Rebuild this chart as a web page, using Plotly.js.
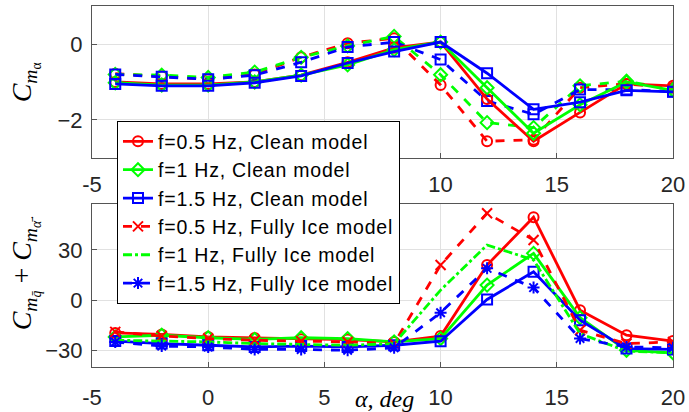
<!DOCTYPE html>
<html><head><meta charset="utf-8">
<script src="https://cdn.plot.ly/plotly-3.0.1.min.js"></script>
<style>html,body{margin:0;padding:0;background:#fff}#chart{width:689px;height:412px}
.legendtext{letter-spacing:0.8px}</style>
</head><body><div id="chart"></div>
<script>
// Angle of attack (deg)
const alpha = [-4, -2, 0, 2, 4, 6, 8, 10, 12, 14, 16, 18, 20];

// Top panel: C_m_alpha
const cmaCleanF05 = [-1.0, -1.05, -1.05, -1.0, -0.82, -0.48, -0.1, 0.05, -1.45, -2.56, -1.8, -1.05, -1.1];
const cmaCleanF1  = [-1.02, -1.08, -1.08, -1.0, -0.82, -0.55, -0.15, 0.05, -1.15, -2.35, -1.6, -1.0, -1.22];
const cmaCleanF15 = [-1.05, -1.1, -1.1, -1.02, -0.84, -0.5, -0.2, 0.05, -0.77, -1.72, -1.53, -1.22, -1.26];
const cmaIceF05   = [-0.78, -0.85, -0.93, -0.8, -0.35, 0.02, 0.15, -1.08, -2.56, -2.52, -1.15, -1.05, -1.15];
const cmaIceF1    = [-0.8, -0.82, -0.88, -0.74, -0.35, -0.05, 0.2, -0.81, -2.07, -2.2, -1.1, -0.98, -1.2];
const cmaIceF15   = [-0.8, -0.86, -0.93, -0.82, -0.48, -0.08, 0.05, -0.41, -1.5, -1.85, -1.2, -1.2, -1.25];

// Bottom panel: C_m_qbar + C_m_alphadotbar
const cmqCleanF05 = [-19.6, -20.5, -22, -22.6, -23.4, -23.6, -25, -21.5, 21, 49.6, -6, -21, -24.5];
const cmqCleanF1  = [-22, -21, -22.5, -23.5, -22.5, -23, -25, -23, 9, 28, -10.5, -30, -31.5];
const cmqCleanF15 = [-24.5, -26, -27, -28, -27.5, -28, -27, -24.6, 0.4, 17, -12, -29, -29.5];
const cmqIceF05   = [-19, -21.5, -23, -24, -24.5, -25, -26, 21, 52, 36, -18, -26, -25];
const cmqIceF1    = [-24, -24.5, -25, -26, -26.5, -27, -26, 6, 33, 24, -20, -30.5, -31.5];
const cmqIceF15   = [-25, -27.5, -28, -29.5, -29.5, -30, -28.5, -7.5, 19, 7.5, -23, -28, -28.5];

const names = ['f=0.5 Hz, Clean model', 'f=1 Hz, Clean model', 'f=1.5 Hz, Clean model',
               'f=0.5 Hz, Fully Ice model', 'f=1 Hz, Fully Ice model', 'f=1.5 Hz, Fully Ice model'];
const xTicks = [-5, 0, 5, 10, 15, 20];
const xTickTextTop = ['-5', '', '', '10', '15', '20'];   // 0 and 5 sit behind the legend
const xTickTextBot = ['-5', '0', '5', '10', '15', '20'];

const RED = '#ff0000', GREEN = '#00ff00', BLUE = '#0000ff';

function tr(y, ax, color, dash, symbol, name, show) {
  return {
    x: alpha, y: y, xaxis: ax[0], yaxis: ax[1], type: 'scatter',
    mode: symbol ? 'lines+markers' : 'lines',
    name: name, showlegend: show,
    line: {color: color, width: 2.8, dash: dash},
    marker: {symbol: symbol || 'circle', size: 10, color: color, line: {color: color, width: 2}}
  };
}
const axTop = ['x', 'y'], axBot = ['x2', 'y2'];
const data = [
  tr(cmaIceF05, axTop, RED, 'dash', 'circle-open', names[3], false),
  tr(cmaIceF1, axTop, GREEN, 'dash', 'diamond-open', names[4], false),
  tr(cmaIceF15, axTop, BLUE, 'dash', 'square-open', names[5], false),
  tr(cmaCleanF05, axTop, RED, 'solid', 'circle-open', names[0], false),
  tr(cmaCleanF1, axTop, GREEN, 'solid', 'diamond-open', names[1], false),
  tr(cmaCleanF15, axTop, BLUE, 'solid', 'square-open', names[2], false),
  tr(cmqCleanF05, axBot, RED, 'solid', 'circle-open', names[0], true),
  tr(cmqCleanF1, axBot, GREEN, 'solid', 'diamond-open', names[1], true),
  tr(cmqCleanF15, axBot, BLUE, 'solid', 'square-open', names[2], true),
  tr(cmqIceF05, axBot, RED, 'dash', 'x-thin-open', names[3], true),
  tr(cmqIceF1, axBot, GREEN, 'dashdot', null, names[4], true),
  tr(cmqIceF15, axBot, BLUE, 'dash', 'asterisk-open', names[5], true)
];

const tickFont = {family: 'Liberation Sans, Arial, sans-serif', size: 22, color: '#262626'};
const axBase = {
  showline: true, mirror: true, linecolor: '#555', linewidth: 1,
  ticks: 'inside', ticklen: 5, tickcolor: '#555',
  showgrid: true, gridcolor: '#e1e1e1', gridwidth: 1, zeroline: false,
  tickfont: tickFont
};
const layout = {
  width: 689, height: 412,
  margin: {l: 92, r: 16, t: 6, b: 45},
  paper_bgcolor: '#fff', plot_bgcolor: '#fff',
  xaxis: Object.assign({}, axBase, {range: [-5, 20], tickvals: xTicks, ticktext: xTickTextTop, anchor: 'y', domain: [0, 1], ticklabelstandoff: 7}),
  yaxis: Object.assign({}, axBase, {range: [-3, 1], tickvals: [-2, 0], domain: [0.579, 1], anchor: 'x', ticklabelstandoff: 4}),
  xaxis2: Object.assign({}, axBase, {range: [-5, 20], tickvals: xTicks, ticktext: xTickTextBot, anchor: 'y2', domain: [0, 1], ticklabelstandoff: 11}),
  yaxis2: Object.assign({}, axBase, {range: [-40, 57.5], tickvals: [-30, 0, 30], domain: [0, 0.4515], anchor: 'x2', ticklabelstandoff: 4}),
  showlegend: true,
  legend: {
    x: 0.043, y: 0.681, xanchor: 'left', yanchor: 'top',
    bgcolor: '#fff', bordercolor: '#000', borderwidth: 1,
    font: {family: 'Liberation Sans, Arial, sans-serif', size: 19.5, color: '#000'},
    tracegroupgap: 0, itemwidth: 30
  },
  annotations: [
    {xref: 'paper', yref: 'paper', x: -0.115, y: 0.789, xanchor: 'center', yanchor: 'middle',
     text: '<i>C</i><sub><i>m</i><sub>α</sub></sub>',
     showarrow: false, textangle: -90, font: {family: 'Liberation Serif, serif', size: 28, color: '#000'}},
    {xref: 'paper', yref: 'paper', x: -0.115, y: 0.26, xanchor: 'center', yanchor: 'middle',
     text: '<i>C</i><sub><i>m</i><sub><i>q̄</i></sub></sub> + <i>C</i><sub><i>m</i><sub><i>α̇̄</i></sub></sub>',
     showarrow: false, textangle: -90, font: {family: 'Liberation Serif, serif', size: 28, color: '#000'}},
    {xref: 'paper', yref: 'paper', x: 0.503, y: -0.088, xanchor: 'center', yanchor: 'middle',
     text: '<i>α, deg</i>', showarrow: false,
     font: {family: 'Liberation Serif, serif', size: 24, color: '#000'}}
  ]
};
Plotly.newPlot('chart', data, layout, {displayModeBar: false, staticPlot: true});
</script></body></html>
